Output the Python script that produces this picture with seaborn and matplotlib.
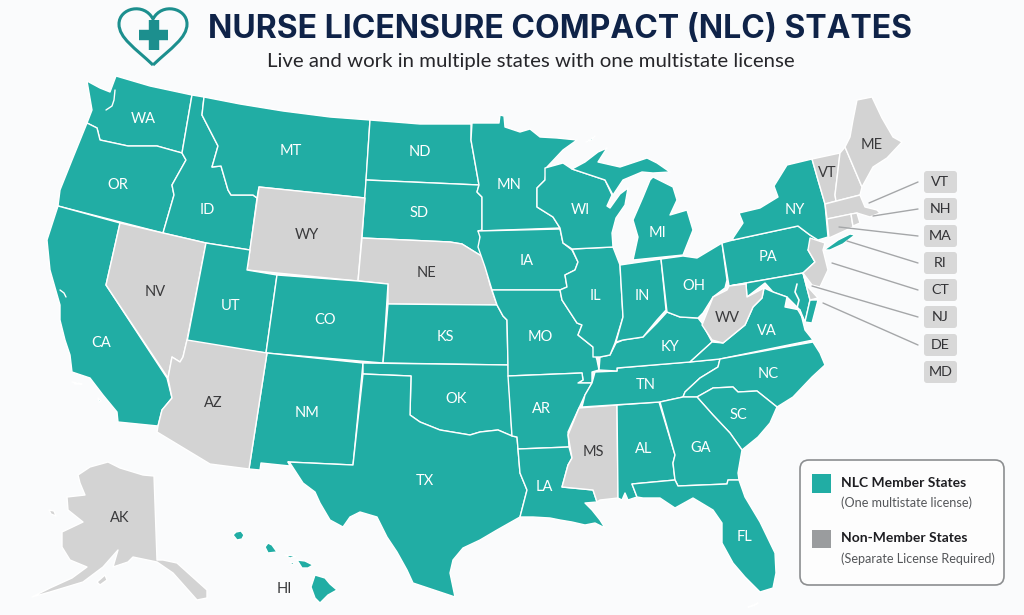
import matplotlib
matplotlib.use("Agg")
import matplotlib.pyplot as plt
import seaborn as sns
import pandas as pd
from matplotlib.patches import FancyBboxPatch, PathPatch
from matplotlib.path import Path

TEAL = "#21ADA4"
GRAY = "#D3D3D3"
NAVY = "#0F2348"
BG = "#FAFBFC"

# state outlines in image pixels
outlines = {
    "WA": [(87,81),(100,88),(110,92),(116,76),(150,86),(192,95),(182,153),(157,146),(128,146),(100,140),(97,128),(87,123),(92,110)],
    "OR": [(87,123),(97,128),(100,140),(128,146),(157,146),(182,153),(186,160),(172,185),(174,195),(163,233),(58,206),(60,190),(72,160)],
    "ID": [(192,95),(204,97),(202,115),(218,146),(212,167),(221,166),(228,190),(231,195),(253,195),(257,198),(250,250),(206,243),(163,233),(174,195),(172,185),(186,160),(182,153)],
    "MT": [(204,97),(240,104),(283,111),(330,117),(370,120),(365,198),(259,187),(257,198),(253,195),(231,195),(228,190),(221,166),(212,167),(218,146),(202,115)],
    "ND": [(370,120),(420,124),(471,124),(471,140),(479,185),(366,180)],
    "SD": [(366,180),(479,185),(477,192),(482,197),(482,230),(480,237),(483,257),(462,244),(450,242),(362,238)],
    "WY": [(259,187),(365,198),(358,281),(247,270)],
    "NE": [(362,238),(450,242),(462,244),(483,257),(490,285),(497,305),(388,304),(388,284),(358,281)],
    "CA": [(58,206),(120,223),(106,285),(167,378),(172,398),(162,410),(158,426),(118,422),(117,412),(103,395),(90,378),(72,372),(70,355),(65,340),(60,320),(60,305),(50,270),(47,240)],
    "NV": [(120,223),(206,243),(187,340),(183,357),(180,362),(172,357),(168,378),(106,285)],
    "UT": [(206,243),(250,250),(247,270),(277,275),(266,353),(187,342)],
    "CO": [(277,275),(358,281),(388,284),(383,363),(266,353)],
    "KS": [(388,304),(497,305),(503,316),(507,320),(508,365),(383,363)],
    "NM": [(267,353),(363,363),(353,465),(288,462),(290,466),(261,463),(260,470),(249,469)],
    "AZ": [(187,340),(267,353),(249,469),(210,464),(157,432),(158,426),(162,410),(172,398),(168,378),(172,357),(180,362),(183,357)],
    "OK": [(363,363),(508,365),(512,436),(498,430),(480,432),(470,435),(440,430),(420,422),(410,415),(411,376),(363,374)],
    "TX": [(363,374),(411,376),(410,415),(420,422),(440,430),(470,435),(480,432),(498,430),(512,436),(517,437),(518,449),(520,473),(527,490),(520,517),(497,530),(480,540),(463,548),(453,560),(450,573),(455,597),(440,592),(413,583),(407,570),(397,552),(387,537),(377,517),(360,512),(350,517),(343,527),(330,520),(320,503),(315,492),(303,483),(290,463),(288,462),(353,465)],
    "MN": [(472,123),(499,123),(500,115),(504,116),(505,127),(520,132),(530,129),(540,137),(557,138),(577,140),(563,150),(547,167),(545,180),(537,188),(537,207),(553,217),(560,228),(478,231),(482,230),(482,197),(477,192),(479,185),(471,140)],
    "IA": [(478,231),(560,229),(563,243),(572,250),(578,262),(575,270),(565,275),(567,287),(560,290),(492,290),(485,267),(478,247),(480,237)],
    "MO": [(492,290),(560,290),(562,300),(577,323),(582,325),(578,335),(593,347),(597,360),(599,370),(592,372),(592,383),(578,383),(583,380),(582,373),(508,376),(508,365),(507,320),(503,316),(497,305)],
    "AR": [(508,376),(582,373),(583,380),(578,383),(592,383),(585,395),(579,408),(568,432),(569,447),(518,449),(517,437),(512,436)],
    "LA": [(518,449),(569,447),(572,458),(568,465),(562,487),(593,490),(597,502),(585,503),(592,510),(600,520),(605,528),(595,523),(585,525),(572,522),(560,520),(550,518),(533,517),(520,517),(527,490),(520,473)],
    "MS": [(579,408),(617,405),(618,498),(600,500),(597,502),(593,490),(562,487),(568,465),(572,458),(568,435)],
    "AL": [(617,405),(659,402),(675,455),(673,463),(675,480),(632,484),(637,497),(628,500),(625,493),(622,500),(618,498)],
    "TN": [(595,372),(617,371),(617,368),(688,362),(720,359),(718,367),(700,378),(685,392),(683,397),(660,402),(582,407),(585,395),(592,383)],
    "KY": [(599,370),(600,357),(610,355),(616,343),(623,340),(643,337),(657,323),(667,312),(680,317),(698,318),(702,323),(712,342),(690,362),(617,368),(617,371)],
    "IL": [(572,249),(613,247),(620,265),(623,317),(615,343),(610,355),(600,357),(593,357),(593,347),(578,335),(582,325),(577,323),(562,300),(560,290),(567,287),(565,275),(575,270),(578,262)],
    "IN": [(620,265),(661,259),(666,310),(657,320),(643,337),(623,340),(616,342),(623,317)],
    "OH": [(661,259),(683,256),(697,258),(722,243),(727,280),(725,288),(713,297),(703,313),(698,318),(680,317),(667,312)],
    "WI": [(545,168),(563,163),(572,169),(605,180),(612,195),(607,206),(610,208),(620,194),(628,188),(625,205),(616,218),(612,233),(613,247),(572,249),(563,243),(560,228),(553,217),(537,207),(537,188),(545,180)],
    "MI_U": [(572,169),(585,162),(598,152),(607,148),(598,162),(620,167),(647,158),(657,163),(670,172),(653,173),(642,172),(623,180),(613,195),(605,180)],
    "MI_L": [(653,177),(673,187),(677,200),(670,215),(687,210),(693,230),(683,255),(633,260),(638,237),(633,220),(643,197),(650,180)],
    "ISLE": [(586,142),(595,136),(592,140)],
    "PA": [(722,243),(733,240),(798,226),(810,235),(818,240),(808,250),(815,262),(803,273),(729,286)],
    "NY": [(733,238),(743,223),(739,213),(760,208),(778,197),(774,186),(787,165),(812,159),(818,180),(825,204),(828,237),(818,240),(810,235),(798,226),(733,240)],
    "LI": [(824,250),(838,240),(850,234),(855,235),(843,244),(830,250)],
    "VT": [(812,159),(840,153),(835,195),(836,201),(825,204),(818,180)],
    "NH": [(840,153),(845,147),(862,187),(860,195),(836,201),(835,195)],
    "ME": [(845,147),(850,137),(853,120),(857,100),(872,97),(882,118),(893,137),(902,142),(887,158),(873,167),(862,187)],
    "MA": [(825,204),(860,195),(865,207),(877,210),(880,213),(870,217),(857,213),(827,219)],
    "CT": [(827,219),(851,214),(853,227),(829,238)],
    "RI": [(851,214),(857,213),(860,223),(853,226)],
    "NJ": [(810,238),(825,243),(823,250),(828,270),(820,287),(812,285),(803,273),(815,262),(808,250)],
    "MD": [(729,286),(803,273),(810,300),(805,322),(800,310),(787,297),(773,292),(765,283),(747,297),(746,284)],
    "MD_E": [(810,300),(818,300),(812,323),(805,322)],
    "DE": [(803,273),(808,287),(818,298),(810,300)],
    "VA": [(690,362),(712,342),(723,343),(745,325),(753,307),(762,298),(764,288),(773,292),(787,297),(785,307),(800,310),(805,330),(813,340),(720,359)],
    "WV": [(729,286),(746,284),(747,297),(764,288),(762,298),(753,307),(745,325),(723,343),(712,340),(702,325),(713,297),(727,290)],
    "NC": [(720,359),(813,342),(820,353),(825,365),(812,377),(793,397),(777,407),(757,391),(738,392),(733,387),(713,388),(697,397),(683,397),(685,392),(700,378),(718,367)],
    "SC": [(697,397),(713,388),(733,387),(738,392),(757,391),(777,407),(770,423),(758,437),(742,450),(730,433),(713,415)],
    "GA": [(660,402),(683,397),(697,397),(713,415),(730,433),(742,450),(738,473),(739,480),(728,480),(727,484),(678,486),(675,480),(673,463),(675,455)],
    "FL": [(632,484),(675,480),(678,486),(727,484),(728,480),(739,480),(745,497),(760,522),(775,553),(776,573),(773,588),(760,592),(745,577),(733,563),(722,543),(722,523),(713,510),(693,498),(675,508),(660,498),(643,498),(637,497)],
    "KEYS": [(748,607),(758,603),(754,606)],
    "AK": [(78,475),(90,467),(108,462),(120,468),(143,475),(154,476),(157,560),(163,560),(177,563),(207,590),(207,598),(197,600),(173,573),(157,562),(133,557),(128,562),(113,567),(118,550),(103,567),(83,582),(50,592),(32,597),(50,588),(72,578),(87,567),(70,560),(62,547),(62,532),(83,522),(68,510),(67,497),(85,495),(80,483)],
    "KODIAK": [(97,582),(105,575),(107,580),(100,585)],
    "NUNIVAK": [(49,510),(54,511),(56,516),(51,514)],
    "HI1": [(233,535),(236,532),(241,531),(244,535),(242,539),(237,540)],
    "HI2": [(265,547),(268,543),(272,545),(277,552),(268,553)],
    "HI3": [(285,555),(297,556),(290,558)],
    "HI4": [(290,562),(295,563),(292,565)],
    "HI5": [(297,560),(305,561),(313,565),(308,568),(302,568)],
    "HI6": [(315,575),(325,578),(330,584),(337,590),(328,595),(320,603),(315,598),(311,587)],
    "CH1": [(72,382),(78,383),(82,384),(75,384)],
    "CH2": [(98,398),(101,401),(99,402)],
}

non_members = ["WY", "NE", "NV", "AZ", "MS", "WV", "VT", "NH", "ME", "MA", "CT", "RI", "NJ", "DE", "AK", "KODIAK", "NUNIVAK"]

state_labels = ["WA","OR","CA","ID","NV","MT","WY","UT","AZ","CO","NM","ND","SD","NE","KS","OK","TX",
                "MN","IA","MO","AR","LA","WI","IL","MI","IN","OH","KY","TN","MS","AL","GA","FL","SC",
                "NC","VA","WV","PA","NY","VT","ME","AK","HI"]
label_x = [143,118,101,207,155,291,307,231,213,325,307,420,419,427,445,456,425,
           509,527,540,541,544,580,595,657,642,694,670,646,593,644,701,745,738,
           768,767,727,768,795,827,872,120,284]
label_y = [119,185,343,210,292,151,235,306,403,320,413,152,213,273,337,399,481,
           185,261,337,409,487,210,296,233,296,286,347,385,452,449,448,537,415,
           374,331,318,257,210,173,145,518,589]
dark_labels = ["NV", "WY", "NE", "AZ", "MS", "WV", "VT", "ME", "AK", "HI"]

callouts = ["VT", "NH", "MA", "RI", "CT", "NJ", "DE", "MD"]
callout_y = [182, 209, 236, 263, 290, 317, 345, 372]
leader_from = [(869,203),(873,216),(839,227),(847,241),(832,263),(812,286),(823,303)]

legend_df = pd.DataFrame({"x": [821.5, 821.5], "y": [483.5, 539],
                          "kind": ["NLC Member States", "Non-Member States"]})

sns.set_theme(style="white")
plt.rcParams["font.family"] = ["Lato", "DejaVu Sans"]

fig = plt.figure(figsize=(10.24, 6.15), dpi=100, facecolor=BG)
ax = fig.add_axes([0, 0, 1, 1])
ax.set_xlim(0, 1024)
ax.set_ylim(615, 0)
ax.axis("off")

for name, pts in outlines.items():
    color = GRAY if name in non_members else TEAL
    xs, ys = zip(*pts)
    ax.fill(xs, ys, facecolor=color, edgecolor="white", linewidth=1.0, joinstyle="round", zorder=2)

# water cut outs
ax.plot([115, 114, 112, 106], [90, 100, 106, 110], color="white", lw=1.0, zorder=3)
ax.plot([60, 64, 66], [290, 293, 297], color="white", lw=1.0, zorder=3)
ax.plot([797, 795, 799, 797, 804], [284, 292, 300, 308, 320], color="white", lw=1.2, zorder=3)

for name, x, y in zip(state_labels, label_x, label_y):
    color = "#3A3A3C" if name in dark_labels else "white"
    ax.text(x, y, name, color=color, fontsize=10.5, ha="center", va="center", zorder=4)

# title and subtitle
ax.text(559.5, 30, "NURSE LICENSURE COMPACT (NLC) STATES", color=NAVY, fontsize=23,
        fontweight="bold", ha="center", va="center", family=["Inter", "DejaVu Sans"])
ax.text(530.5, 62, "Live and work in multiple states with one multistate license", color="#26262A",
        fontsize=14.7, ha="center", va="center")

# heart logo
heart = Path([(153, 65), (135, 48), (119, 38), (119, 24), (119, 8), (144, 2), (153, 19),
              (162, 2), (187, 8), (187, 24), (187, 38), (171, 48), (153, 65)],
             [Path.MOVETO, Path.CURVE4, Path.CURVE4, Path.CURVE4, Path.CURVE4, Path.CURVE4, Path.CURVE4,
              Path.CURVE4, Path.CURVE4, Path.CURVE4, Path.CURVE4, Path.CURVE4, Path.CURVE4])
ax.add_patch(PathPatch(heart, facecolor="none", edgecolor="#1C8F8E", lw=2.2, zorder=3))
ax.plot([139, 168], [35, 35], color="#1C8F8E", lw=7.5, solid_capstyle="butt", zorder=3)
ax.plot([153.5, 153.5], [20, 50], color="#1C8F8E", lw=7.5, solid_capstyle="butt", zorder=3)

# callouts down the right
for (x0, y0), y1 in zip(leader_from, callout_y):
    ax.plot([x0, 918], [y0, y1], color="#A5A7A9", lw=1.0, zorder=3)
for name, y in zip(callouts, callout_y):
    ax.add_patch(FancyBboxPatch((926, y - 9), 29, 18, boxstyle="round,pad=2,rounding_size=3",
                                facecolor="#D8D8D8", edgecolor="none", zorder=3))
    ax.text(940.5, y, name, color="#333336", fontsize=10.3, ha="center", va="center", zorder=4)

# legend
ax.add_patch(FancyBboxPatch((806, 466), 192, 113, boxstyle="round,pad=6,rounding_size=9",
                            facecolor="#FDFDFD", edgecolor="#8C8E90", lw=1.2, zorder=3))
sns.scatterplot(data=legend_df, x="x", y="y", hue="kind", palette=[TEAL, "#9A9C9E"], marker="s",
                s=185, linewidth=0, legend=False, ax=ax, zorder=4)
ax.set_xlim(0, 1024)
ax.set_ylim(615, 0)
ax.text(841, 483, "NLC Member States", color="#1E1E22", fontsize=10, fontweight="bold", va="center", zorder=4)
ax.text(841, 503, "(One multistate license)", color="#55575A", fontsize=9.1, va="center", zorder=4)
ax.text(841, 538, "Non-Member States", color="#1E1E22", fontsize=10, fontweight="bold", va="center", zorder=4)
ax.text(841, 559, "(Separate License Required)", color="#55575A", fontsize=9.1, va="center", zorder=4)

plt.savefig("out.png", dpi=100, facecolor=BG)
